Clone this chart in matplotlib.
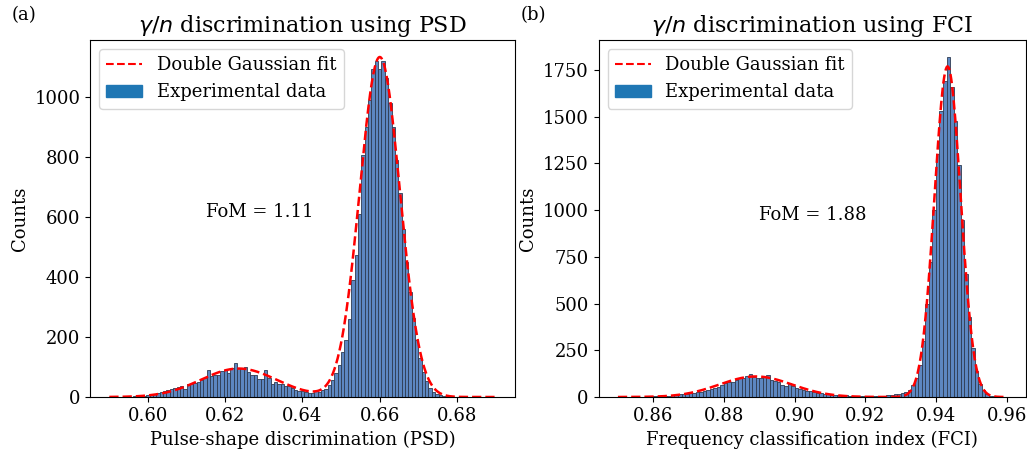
import numpy as np
import matplotlib
matplotlib.use('Agg')
import matplotlib.pyplot as plt
from matplotlib.patches import Patch
from matplotlib.lines import Line2D

plt.rcParams['font.family'] = 'DejaVu Serif'

# PSD histogram (115 bins between 0.59 and 0.69)
psd_range = [0.59, 0.69]
psd_counts = [0, 0, 0, 0, 1, 1, 1, 2, 3, 4,
              5, 7, 9, 11, 13, 16, 19, 22, 26, 30,
              34, 36, 28, 42, 45, 48, 51, 58, 64, 90,
              70, 73, 72, 88, 90, 80, 96, 112, 98, 96,
              100, 82, 75, 73, 60, 60, 90, 62, 42, 50,
              45, 42, 38, 37, 30, 23, 21, 20, 17, 15,
              14, 20, 18, 22, 27, 40, 57, 79, 107, 151,
              190, 262, 390, 473, 612, 807, 900, 990, 1096, 1121,
              1096, 1121, 1066, 980, 900, 790, 680, 560, 450, 350,
              265, 190, 130, 85, 52, 30, 17, 10, 6, 3,
              2, 1, 1, 0, 0, 0, 0, 0, 0, 0, 0, 0, 0, 0, 0]
# double gaussian fit params: amp, mean, sigma
psd_fit = [(95, 0.6235, 0.0098), (1135, 0.6600, 0.0052)]
psd_fom = 'FoM = 1.11'

# FCI histogram (110 bins between 0.85 and 0.96)
fci_range = [0.85, 0.96]
fci_counts = [0, 0, 0, 0, 1, 1, 1, 2, 2, 3,
              3, 4, 5, 6, 8, 10, 12, 14, 15, 17,
              19, 22, 25, 28, 32, 36, 42, 48, 56, 64,
              76, 80, 78, 90, 100, 102, 110, 121, 108, 104,
              100, 106, 117, 92, 84, 80, 62, 58, 76, 60,
              48, 44, 40, 34, 30, 28, 24, 20, 17, 15,
              13, 12, 10, 9, 9, 8, 7, 7, 6, 6,
              6, 6, 6, 7, 7, 8, 9, 11, 14, 18,
              22, 28, 36, 62, 100, 170, 300, 500, 720, 1000,
              1300, 1530, 1690, 1820, 1660, 1480, 1240, 950, 660, 430,
              260, 140, 70, 35, 16, 7, 3, 1, 0, 0]
fci_fit = [(110, 0.889, 0.0103), (1770, 0.9433, 0.0037)]
fci_fom = 'FoM = 1.88'


def double_gauss(x, p):
    y = np.zeros_like(x)
    for a, mu, s in p:
        y += a * np.exp(-(x - mu) ** 2 / (2 * s ** 2))
    return y


fig = plt.figure(figsize=(10.27, 4.49), dpi=100)
ax1 = fig.add_axes([90 / 1027, 52 / 449, 425 / 1027, 357 / 449])
ax2 = fig.add_axes([598.5 / 1027, 52 / 449, 427.5 / 1027, 357 / 449])

panels = [
    (ax1, psd_range, psd_counts, psd_fit, psd_fom, (0.615, 600),
     r'$\gamma/n$ discrimination using PSD', 'Pulse-shape discrimination (PSD)', '(a)'),
    (ax2, fci_range, fci_counts, fci_fit, fci_fom, (0.89, 950),
     r'$\gamma/n$ discrimination using FCI', 'Frequency classification index (FCI)', '(b)'),
]

for ax, rng, counts, fit, fom, fom_pos, title, xlabel, tag in panels:
    edges = np.linspace(rng[0], rng[1], len(counts) + 1)
    ax.bar(edges[:-1], counts, width=np.diff(edges), align='edge',
           color='#5d87c1', edgecolor='#2e3b52', linewidth=0.6)
    xf = np.linspace(rng[0], rng[1], 500)
    ax.plot(xf, double_gauss(xf, fit), 'r--', lw=1.8)
    ax.set_title(title, fontsize=16)
    ax.set_xlabel(xlabel, fontsize=13)
    ax.set_ylabel('Counts', fontsize=13)
    ax.tick_params(labelsize=13)
    ax.text(fom_pos[0], fom_pos[1], fom, fontsize=13)
    handles = [Line2D([0], [0], color='red', ls='--', lw=1.5),
               Patch(color='#1f77b4')]
    ax.legend(handles, ['Double Gaussian fit', 'Experimental data'],
              loc='upper left', fontsize=13)
    pos = ax.get_position()
    fig.text(pos.x0 - 78 / 1027, 0.955, tag, fontsize=13)

fig.savefig('out.png', dpi=100)
